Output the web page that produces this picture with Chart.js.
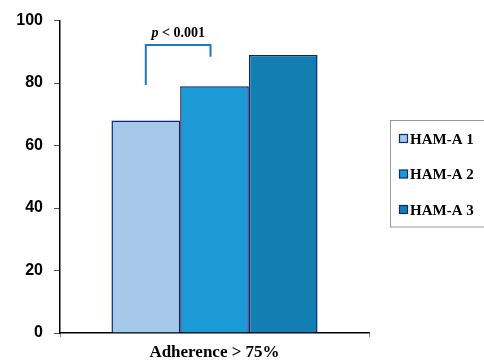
<!DOCTYPE html>
<html>
<head>
<meta charset="utf-8">
<script src="https://cdn.jsdelivr.net/npm/chart.js@4/dist/chart.umd.min.js"></script>
<style>
  html, body { margin: 0; padding: 0; background: #fff; }
  #wrap { width: 484px; height: 360px; position: relative; }
</style>
</head>
<body>
<div id="wrap"><canvas id="c" width="484" height="360"></canvas></div>
<script>
const categories = ['Adherence > 75%'];
const seriesNames = ['HAM-A 1', 'HAM-A 2', 'HAM-A 3'];
const seriesValues = [[68], [79], [89]];
const seriesColors = ['#A6C8E9', '#1C9AD6', '#127EB1'];
const yTicks = [0, 20, 40, 60, 80, 100];
const pLabel = 'p < 0.001';

const bracketPlugin = {
  id: 'bracket',
  afterDatasetsDraw(chart, args, opts) {
    const ctx = chart.ctx;
    const y = chart.scales.y;
    const b0 = chart.getDatasetMeta(0).data[0];
    const b1 = chart.getDatasetMeta(1).data[0];
    const x0 = b0.x;
    const x1 = b1.x - 4;
    const yl = y.getPixelForValue(opts.leftEnd);
    const yt = y.getPixelForValue(opts.top);
    const yr = y.getPixelForValue(opts.rightEnd);
    ctx.save();
    ctx.strokeStyle = '#1F78C8';
    ctx.lineWidth = 2;
    ctx.beginPath();
    ctx.moveTo(x0, yl);
    ctx.lineTo(x0, yt);
    ctx.lineTo(x1, yt);
    ctx.lineTo(x1, yr);
    ctx.stroke();
    const cx = (x0 + x1) / 2;
    const base = yt - 8;
    ctx.fillStyle = '#000';
    ctx.textBaseline = 'alphabetic';
    const f1 = 'italic bold 14px "Liberation Serif"';
    const f2 = 'bold 14px "Liberation Serif"';
    const first = pLabel.slice(0, 1);
    const rest = pLabel.slice(1);
    ctx.font = f1; const w1 = ctx.measureText(first).width;
    ctx.font = f2; const w2 = ctx.measureText(rest).width;
    let sx = cx - (w1 + w2) / 2;
    ctx.textAlign = 'left';
    ctx.font = f1; ctx.fillText(first, sx, base);
    ctx.font = f2; ctx.fillText(rest, sx + w1, base);
    ctx.restore();
  }
};

const legendPlugin = {
  id: 'customLegend',
  afterDraw(chart) {
    const ctx = chart.ctx;
    ctx.save();
    ctx.strokeStyle = '#999';
    ctx.lineWidth = 1;
    ctx.strokeRect(390.5, 120.5, 100, 106.5);
    ctx.font = 'bold 15px "Liberation Serif"';
    ctx.textBaseline = 'middle';
    ctx.textAlign = 'left';
    chart.data.datasets.forEach((ds, i) => {
      const cy = 139 + i * 35.5;
      ctx.fillStyle = ds.backgroundColor;
      ctx.fillRect(399.5, cy - 4.5, 8, 8);
      ctx.strokeStyle = '#0B2B73';
      ctx.lineWidth = 1.2;
      ctx.strokeRect(399.5, cy - 4.5, 8, 8);
      ctx.fillStyle = '#000';
      ctx.fillText(ds.label, 410, cy + 1);
    });
    ctx.restore();
  }
};

new Chart(document.getElementById('c'), {
  type: 'bar',
  data: {
    labels: categories,
    datasets: seriesNames.map((n, i) => ({
      label: n,
      data: seriesValues[i],
      backgroundColor: seriesColors[i],
      borderColor: '#0A2670',
      borderWidth: 1.5,
      categoryPercentage: 0.667,
      barPercentage: 1.0
    }))
  },
  options: {
    responsive: false,
    animation: false,
    devicePixelRatio: 1,
    layout: { padding: { left: 0, top: 19, right: 115, bottom: 0 } },
    plugins: {
      legend: { display: false },
      tooltip: { enabled: false },
      bracket: { leftEnd: 79.4, top: 92.2, rightEnd: 88.4 }
    },
    scales: {
      x: {
        grid: { display: true, drawOnChartArea: false, drawTicks: true, tickLength: 4, color: '#888', offset: true },
        border: { display: true, color: '#000', width: 1.5 },
        ticks: { color: '#000', font: { family: 'Liberation Serif', size: 17, weight: 'bold' }, padding: 5 },
        afterFit(s) { s.height = 27; }
      },
      y: {
        min: 0, max: 100,
        afterBuildTicks(s) { s.ticks = yTicks.map(v => ({ value: v })); },
        grid: { display: true, drawOnChartArea: false, drawTicks: true, tickLength: 6, color: '#555' },
        border: { display: true, color: '#000', width: 1.5 },
        ticks: { color: '#000', font: { family: 'Liberation Sans', size: 16, weight: 'bold' }, padding: 11 },
        afterFit(s) { s.width = 60; }
      }
    }
  },
  plugins: [bracketPlugin, legendPlugin]
});
</script>
</body>
</html>
